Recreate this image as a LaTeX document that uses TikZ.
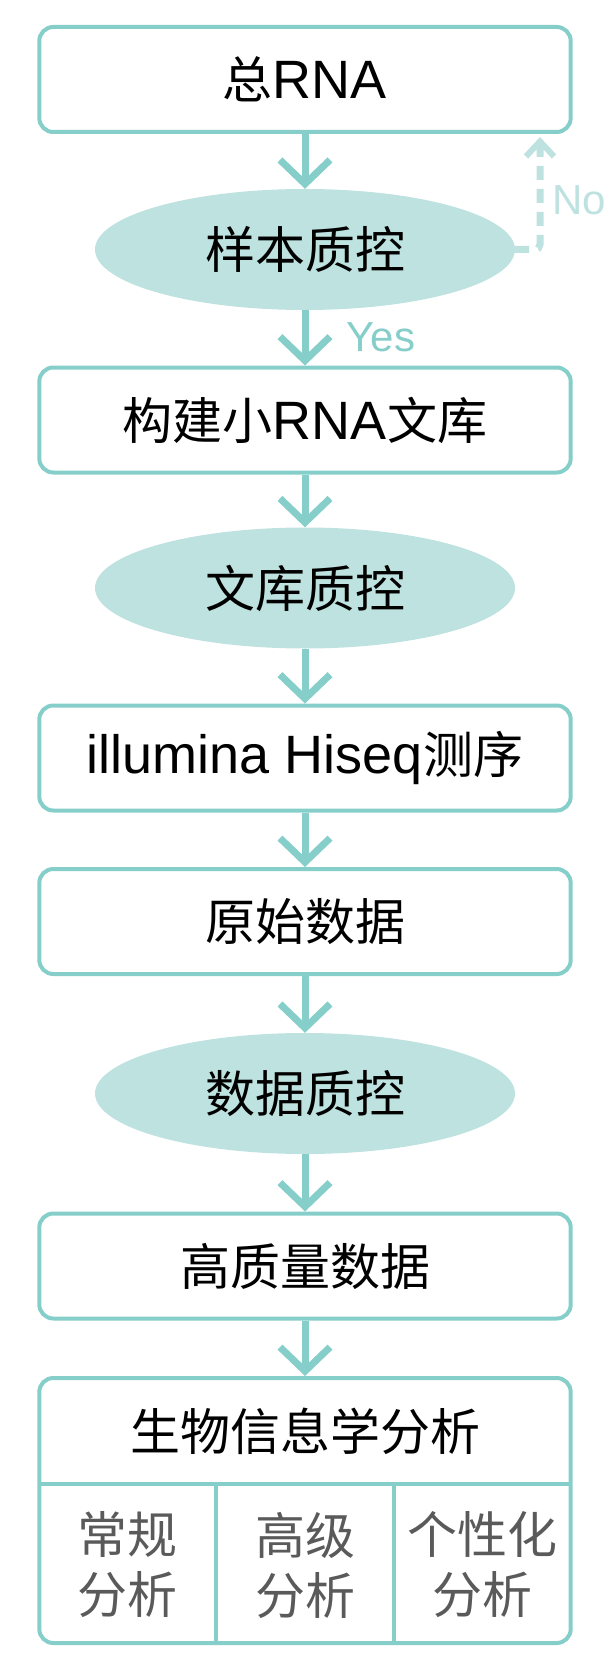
\documentclass[tikz,border=0pt]{standalone}
\usepackage{fontspec}
\setmainfont{Liberation Sans}
\newfontfamily\cjk{Noto Sans CJK SC}
\usetikzlibrary{arrows.meta,shapes.geometric}
\definecolor{tealA}{HTML}{86CEC9}
\definecolor{tealB}{HTML}{BDE2DF}
\definecolor{grayA}{HTML}{5A5A5A}
\newcommand{\latf}{\fontsize{54}{64}\selectfont}
\newcommand{\zh}[1]{{\cjk\fontsize{50}{60}\selectfont #1}}
\tikzset{
  stepbox/.style={draw=tealA, line width=4pt, rounded corners=14pt, minimum width=531.4pt, minimum height=105pt, inner sep=0pt, align=center, font=\latf},
  qcell/.style={ellipse, fill=tealB, minimum width=420pt, minimum height=121pt, inner sep=0pt, font=\latf},
  conn/.style={draw=tealA, line width=7pt, -{Straight Barb[length=24pt, width=50pt]}},
  noconn/.style={draw=tealB, line width=7pt, dash pattern=on 14pt off 9pt, rounded corners=5pt, -{Straight Barb[length=15pt, width=28pt, line width=6pt]}},
  divider/.style={draw=tealA, line width=4pt},
  lbl/.style={font=\fontsize{42}{50}\selectfont, inner sep=0pt},
  celltext/.style={align=center, text=grayA, inner sep=0pt, font=\cjk\fontsize{50}{60}\selectfont}
}
\begin{document}
\begin{tikzpicture}[x=1pt,y=-1pt]
\useasboundingbox (0,0) rectangle (614,1677);
\node[stepbox] (b1) at (305,79.5) {\zh{总}RNA};
\node[qcell] (e1) at (305,249.5) {\zh{样本质控}};
\node[stepbox] (b2) at (305,420) {\zh{构建小}RNA\zh{文库}};
\node[qcell] (e2) at (305,588) {\zh{文库质控}};
\node[stepbox] (b3) at (305,758) {illumina Hiseq\zh{测序}};
\node[stepbox] (b4) at (305,921.5) {\zh{原始数据}};
\node[qcell] (e3) at (305,1093.5) {\zh{数据质控}};
\node[stepbox] (b5) at (305,1266) {\zh{高质量数据}};
\node[stepbox, minimum height=265pt] (b6) at (305,1510.5) {};
\node[inner sep=0pt] (t6) at (305,1431) {\zh{生物信息学分析}};
\coordinate (dl) at (39.3,1484);
\coordinate (dr) at (570.7,1484);
\coordinate (v1t) at (216.4,1484);
\coordinate (v1b) at (216.4,1643);
\coordinate (v2t) at (393.6,1484);
\coordinate (v2b) at (393.6,1643);
\draw[divider] (dl) -- (dr);
\draw[divider] (v1t) -- (v1b);
\draw[divider] (v2t) -- (v2b);
\node[celltext] (c1) at (127.9,1565) {常规\\分析};
\node[celltext] (c2) at (305,1565) {高级\\分析};
\node[celltext] (c3) at (482.1,1565) {个性化\\分析};
\draw[conn] (b1.south) -- (e1.north);
\draw[conn] (e1.south) -- (b2.north);
\draw[conn] (b2.south) -- (e2.north);
\draw[conn] (e2.south) -- (b3.north);
\draw[conn] (b3.south) -- (b4.north);
\draw[conn] (b4.south) -- (e3.north);
\draw[conn] (e3.south) -- (b5.north);
\draw[conn] (b5.south) -- (b6.north);
\coordinate (nx) at (540,137);
\draw[noconn] (e1.east) -| (nx);
\node[lbl, text=tealA] (yes) at (381,337) {Yes};
\node[lbl, text=tealB] (no) at (579,200) {No};
\end{tikzpicture}
\end{document}
